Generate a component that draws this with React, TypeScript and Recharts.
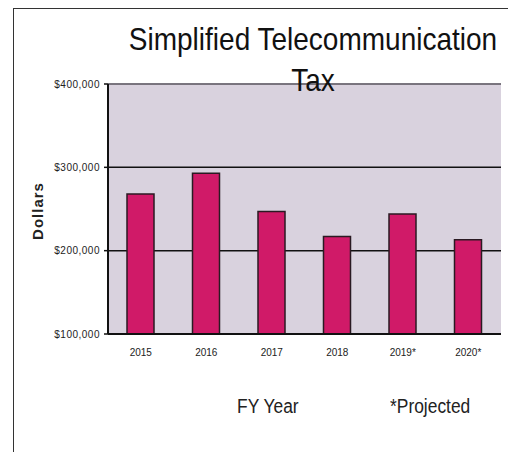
import { BarChart, Bar, XAxis, YAxis, CartesianGrid, ReferenceLine, Label } from "recharts";

const years = ["2015", "2016", "2017", "2018", "2019*", "2020*"];
const taxValues = [268000, 293000, 247000, 217000, 244000, 213000];
const yTicks = [100000, 200000, 300000, 400000];

const data = years.map((year, i) => ({ year, tax: taxValues[i] }));

const formatDollars = (v: number) => "$" + v.toLocaleString("en-US");

const footnote = {
  position: "absolute" as const,
  top: 394,
  fontFamily: "'Liberation Sans', Arial, sans-serif",
  fontSize: 20,
  color: "#222",
  transform: "scale(0.87, 1.05)",
  transformOrigin: "left top",
};

export default function App() {
  return (
    <div style={{ position: "relative", width: 516, height: 460, margin: -8, background: "#fff", overflow: "hidden" }}>
      {/* scanned frame */}
      <div
        style={{
          position: "absolute",
          left: 13,
          top: 8,
          width: 520,
          height: 447,
          borderLeft: "1.5px solid #333",
          borderTop: "1.5px solid #333",
          borderBottom: "1.5px solid #555",
        }}
      />
      <BarChart
        width={516}
        height={460}
        data={data}
        margin={{ top: 84, right: 15, bottom: 96, left: 8 }}
        style={{ position: "absolute", left: 0, top: 0, fontFamily: "'Liberation Sans', Arial, sans-serif" }}
      >
        <CartesianGrid
          yAxisId="left"
          vertical={false}
          stroke="#111"
          strokeWidth={1.5}
          fill="#d9d2de"
          fillOpacity={1}
        />
        <ReferenceLine y={400000} yAxisId="left" stroke="#8a8590" strokeWidth={1.5} />
        <XAxis
          dataKey="year"
          height={30}
          axisLine={{ stroke: "#111", strokeWidth: 2 }}
          tickLine={false}
          tickSize={0}
          tickMargin={15}
          tick={{ fill: "#222", fontSize: 10 }}
        />
        <YAxis
          yAxisId="left"
          width={100}
          domain={[100000, 400000]}
          ticks={yTicks}
          tickFormatter={formatDollars}
          axisLine={{ stroke: "#111", strokeWidth: 2 }}
          tickLine={{ stroke: "#111", strokeWidth: 1.5 }}
          tickSize={4}
          tickMargin={4}
          tick={{ fill: "#222", fontSize: 10, letterSpacing: 0.5 }}
        >
          <Label
            value="Dollars"
            angle={-90}
            position="center"
            dx={-20}
            dy={2}
            style={{ fontSize: 15, fontWeight: "bold", fill: "#222", letterSpacing: 1 }}
          />
        </YAxis>
        <YAxis
          yAxisId="right"
          orientation="right"
          width={0}
          domain={[100000, 400000]}
          tick={false}
          tickLine={false}
          axisLine={{ stroke: "#8a8590", strokeWidth: 1.5 }}
        />
        <Bar
          yAxisId="left"
          dataKey="tax"
          barSize={27}
          fill="#d01a68"
          stroke="#2a1a22"
          strokeWidth={1.5}
          isAnimationActive={false}
        />
      </BarChart>
      <div
        style={{
          position: "absolute",
          left: 0,
          width: 626,
          top: 19,
          textAlign: "center",
          fontFamily: "'Liberation Sans', Arial, sans-serif",
          fontSize: 28,
          lineHeight: "36px",
          color: "#111",
          transform: "scaleY(1.15)",
          transformOrigin: "top",
        }}
      >
        Simplified Telecommunication
        <br />
        Tax
      </div>
      <div style={{ ...footnote, left: 237 }}>FY Year</div>
      <div style={{ ...footnote, left: 390 }}>*Projected</div>
    </div>
  );
}
